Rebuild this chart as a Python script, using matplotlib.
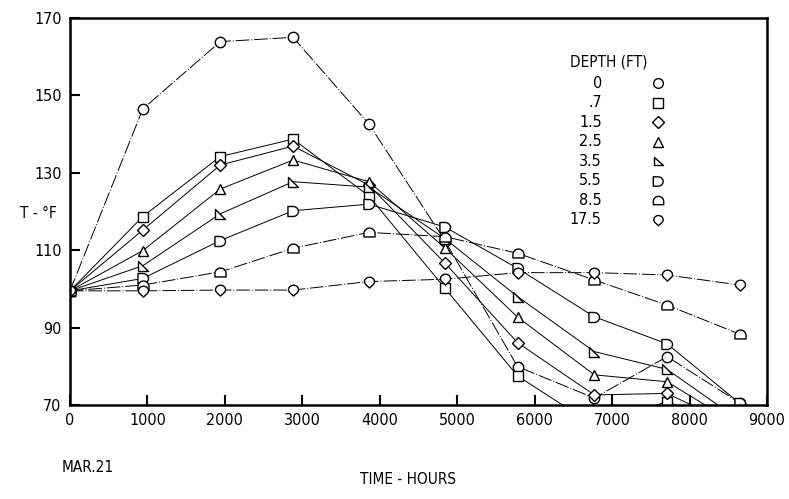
import numpy as np
import matplotlib
matplotlib.use("Agg")
import matplotlib.pyplot as plt
from matplotlib.path import Path
from matplotlib import font_manager

names = {f.name for f in font_manager.fontManager.ttflist}
if 'Liberation Sans Narrow' in names:
    plt.rcParams['font.family'] = ['Liberation Sans Narrow', 'DejaVu Sans']
else:
    plt.rcParams['font.family'] = ['DejaVu Sans']
    plt.rcParams['font.stretch'] = 'condensed'

# time of each reading (hours)
hours = [0, 940, 1940, 2880, 3860, 4840, 5780, 6770, 7710, 8650]

depths = ["0", ".7", "1.5", "2.5", "3.5", "5.5", "8.5", "17.5"]

# temperature (F) at each depth
t_0 = [99.5, 146.5, 163.9, 165.0, 142.6, 112.5, 79.9, 71.8, 82.5, 70.5]
t_07 = [99.5, 118.7, 134.2, 138.7, 124.0, 100.2, 77.5, 64.7, 70.9, 63.0]
t_15 = [99.5, 115.2, 132.0, 136.9, 126.8, 106.7, 86.1, 72.6, 73.0, 64.0]
t_25 = [99.5, 109.9, 125.8, 133.3, 127.7, 110.6, 92.7, 77.8, 76.0, 64.5]
t_35 = [99.5, 106.0, 119.4, 127.7, 126.3, 113.0, 98.0, 83.8, 79.2, 66.0]
t_55 = [99.5, 102.7, 112.5, 120.2, 121.9, 116.0, 105.3, 92.8, 85.8, 70.4]
t_85 = [99.5, 101.0, 104.4, 110.5, 114.6, 113.5, 109.2, 102.3, 95.8, 88.3]
t_175 = [99.5, 99.5, 99.7, 99.7, 101.9, 102.5, 104.2, 104.2, 103.6, 101.0]

series = [t_0, t_07, t_15, t_25, t_35, t_55, t_85, t_175]


# odd marker shapes used in the old plot
def d_shape():
    a = np.linspace(-np.pi / 2, np.pi / 2, 20)
    v = [(-1.0, -0.9)] + list(zip(-0.1 + 1.0 * np.cos(a), 0.9 * np.sin(a))) + [(-1.0, 0.9), (-1.0, -0.9)]
    return Path(v, closed=True)


def arch_shape():
    a = np.linspace(0, np.pi, 20)
    v = [(1.0, -0.8)] + list(zip(np.cos(a), -0.2 + 1.0 * np.sin(a))) + [(-1.0, -0.8), (1.0, -0.8)]
    return Path(v, closed=True)


def drop_shape():
    a = np.linspace(-0.25 * np.pi, 1.25 * np.pi, 30)
    v = list(zip(0.9 * np.cos(a), 0.15 + 0.8 * np.sin(a))) + [(0.0, -1.0), (0.64, -0.42)]
    return Path(v, closed=True)


right_tri = Path([(-0.9, 0.9), (-0.9, -0.9), (1.0, -0.9), (-0.9, 0.9)], closed=True)

markers = ['o', 's', 'D', '^', right_tri, d_shape(), arch_shape(), drop_shape()]
sizes = [7.5, 7, 6.5, 7, 7.5, 8, 8, 8]
dd = (0, (14, 2, 1, 2))
styles = [dd, '-', '-', '-', '-', '-', dd, dd]

fig = plt.figure(figsize=(7.89, 4.99), dpi=100)
ax = fig.add_axes([70 / 789, 1 - 405 / 499, 697 / 789, 387 / 499])

for vals, m, ms, ls in zip(series, markers, sizes, styles):
    ax.plot(hours, vals, color='black', lw=0.7, linestyle=ls, marker=m, markersize=ms,
            markerfacecolor='white', markeredgecolor='black', markeredgewidth=1.0)

ax.set_xlim(0, 9000)
ax.set_ylim(70, 170)
ax.set_xticks(range(0, 9001, 1000))
ax.set_yticks(range(70, 171, 20))
ax.tick_params(direction='in', length=7, width=1.5, labelsize=11.5, pad=6)
for s in ax.spines.values():
    s.set_linewidth(1.8)

# legend drawn by hand so labels are right aligned like the original
ax.text(0.717, 0.886, "DEPTH (FT)", transform=ax.transAxes, fontsize=11, va='center', ha='left')
for i, (d, m, ms) in enumerate(zip(depths, markers, sizes)):
    y = 0.832 - i * 0.0505
    ax.text(0.763, y, d, transform=ax.transAxes, fontsize=11.5, va='center', ha='right')
    ax.plot([0.844], [y], transform=ax.transAxes, marker=m, markersize=ms - 0.5,
            markerfacecolor='white', markeredgecolor='black', markeredgewidth=1.0, clip_on=False)

fig.text(38 / 789, 1 - 213 / 499, "T - °F", fontsize=11, ha='center', va='center')
fig.text(408 / 789, 1 - 480 / 499, "TIME - HOURS", fontsize=11, ha='center', va='center')
fig.text(62 / 789, 1 - 468 / 499, "MAR.21", fontsize=11, ha='left', va='center')

fig.savefig("out.png", dpi=100)
